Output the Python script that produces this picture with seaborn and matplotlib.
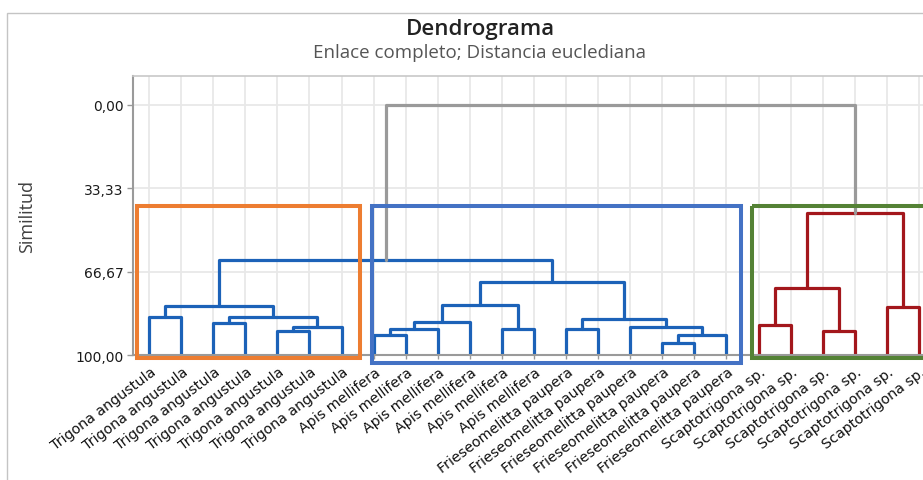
import matplotlib.pyplot as plt
import matplotlib.patches as mpatches
import matplotlib.transforms as mtransforms
import numpy as np
import pandas as pd
import seaborn as sns

# hojas del dendrograma (orden de izquierda a derecha)
especies = (['Trigona angustula'] * 7 + ['Apis mellifera'] * 6 +
            ['Frieseomelitta paupera'] * 6 + ['Scaptotrigona sp.'] * 6)

# uniones: cluster a + cluster b a la similitud dada (hojas 0-24, nuevos desde 25)
union_a = [16, 25, 7, 4, 21, 27, 11, 13, 15, 28, 19, 2, 30, 32, 0, 36, 23, 39, 37, 35, 43, 42, 44, 46]
union_b = [17, 18, 8, 5, 22, 9, 12, 14, 26, 6, 20, 3, 10, 33, 1, 34, 24, 40, 31, 29, 38, 45, 41, 47]
similitud = [95.2, 92.0, 91.9, 90.5, 90.5, 89.6, 89.6, 89.6, 88.9, 88.7, 87.9, 87.3,
             86.7, 85.6, 84.9, 84.9, 80.7, 80.3, 80.0, 73.2, 70.9, 62.0, 43.2, 0.0]

yticks = [0.0, 33.33, 66.67, 100.0]
ytick_labels = ['0,00', '33,33', '66,67', '100,00']

sns.set_theme(style='whitegrid')
plt.rcParams['font.family'] = ['DejaVu Sans']

# construir los segmentos de cada union
n = len(especies)
pos = {i: (float(i), 100.0) for i in range(n)}
miembros = {i: [i] for i in range(n)}
filas = []
for k, (a, b, s) in enumerate(zip(union_a, union_b, similitud)):
    xa, ya = pos[a]
    xb, yb = pos[b]
    nuevo = n + k
    miembros[nuevo] = miembros[a] + miembros[b]
    grupos = {especies[i] for i in miembros[nuevo]}
    if len(miembros[nuevo]) == n:
        g = 'raiz'
    elif grupos == {'Scaptotrigona sp.'}:
        g = 'rojo'
    else:
        g = 'azul'
    for x, y in [(xa, ya), (xa, s), (xb, s), (xb, yb)]:
        filas.append({'enlace': k, 'x': x, 'y': y, 'grupo': g})
    pos[nuevo] = ((xa + xb) / 2, s)
df = pd.DataFrame(filas)

fig = plt.figure(figsize=(9.23, 4.81), dpi=100)
ax = fig.add_axes([133 / 923, 1 - 356 / 481, 802 / 923, 279 / 481])

sns.lineplot(data=df, x='x', y='y', units='enlace', estimator=None, sort=False,
             hue='grupo', palette={'azul': '#1c62b8', 'rojo': '#a3171c', 'raiz': '#9a9a9a'},
             lw=2.3, legend=False, ax=ax)

ax.set_xlim(-0.5, n - 0.5)
ax.set_ylim(100, -11.6)
ax.set_xticks(range(n))
ax.set_xticklabels(especies, rotation=37, ha='right', va='center',
                   rotation_mode='anchor', fontsize=10.3, color='#111111')
ax.set_yticks(yticks)
ax.set_yticklabels(ytick_labels, fontsize=10, color='#1a1a1a')
ax.set_xlabel('')
ax.set_ylabel('')
ax.grid(True, color='#e8e8e8', lw=1.3)
ax.tick_params(axis='y', length=4, width=1, color='#999999', pad=3, left=True)
ax.tick_params(axis='x', length=3, width=1, color='#999999', pad=8, bottom=True)
offset = mtransforms.ScaledTranslation(5 / 100, 0, fig.dpi_scale_trans)
for lab in ax.get_xticklabels():
    lab.set_transform(lab.get_transform() + offset)
for side in ['left', 'bottom']:
    ax.spines[side].set_color('#9a9a9a')
    ax.spines[side].set_linewidth(1.5)
ax.spines['top'].set_color('#c8c8c8')
ax.spines['top'].set_linewidth(1.2)
ax.spines['right'].set_visible(False)

# recuadros que marcan los grupos
cajas = [(-0.39, 6.57, 101.1, '#ED7D31'), (6.95, 18.44, 103.2, '#4472C4'),
         (18.78, 24.4, 101.2, '#548235')]
for x0, x1, y1, c in cajas:
    ax.add_patch(mpatches.Rectangle((x0, 40.5), x1 - x0, y1 - 40.5, fill=False,
                                    edgecolor=c, lw=2.9, clip_on=False, zorder=5))

# marco exterior
fig.patches.append(mpatches.Rectangle((7 / 923, -0.1), 1.2, 1 - 14 / 481 + 0.1, fill=False,
                                      edgecolor='#c4c4c4', lw=1, transform=fig.transFigure))

fig.text(480 / 923, 1 - 30 / 481, 'Dendrograma', ha='center', va='center',
         fontsize=16, fontweight='semibold', family='Open Sans', color='#222222')
fig.text(480 / 923, 1 - 53 / 481, 'Enlace completo; Distancia euclediana', ha='center',
         va='center', fontsize=13.5, family='Open Sans', color='#555555')
fig.text(27 / 923, 1 - 217 / 481, 'Similitud', rotation=90, ha='center', va='center',
         fontsize=13, family='Open Sans', color='#404040')

fig.savefig('out.png', dpi=100)
